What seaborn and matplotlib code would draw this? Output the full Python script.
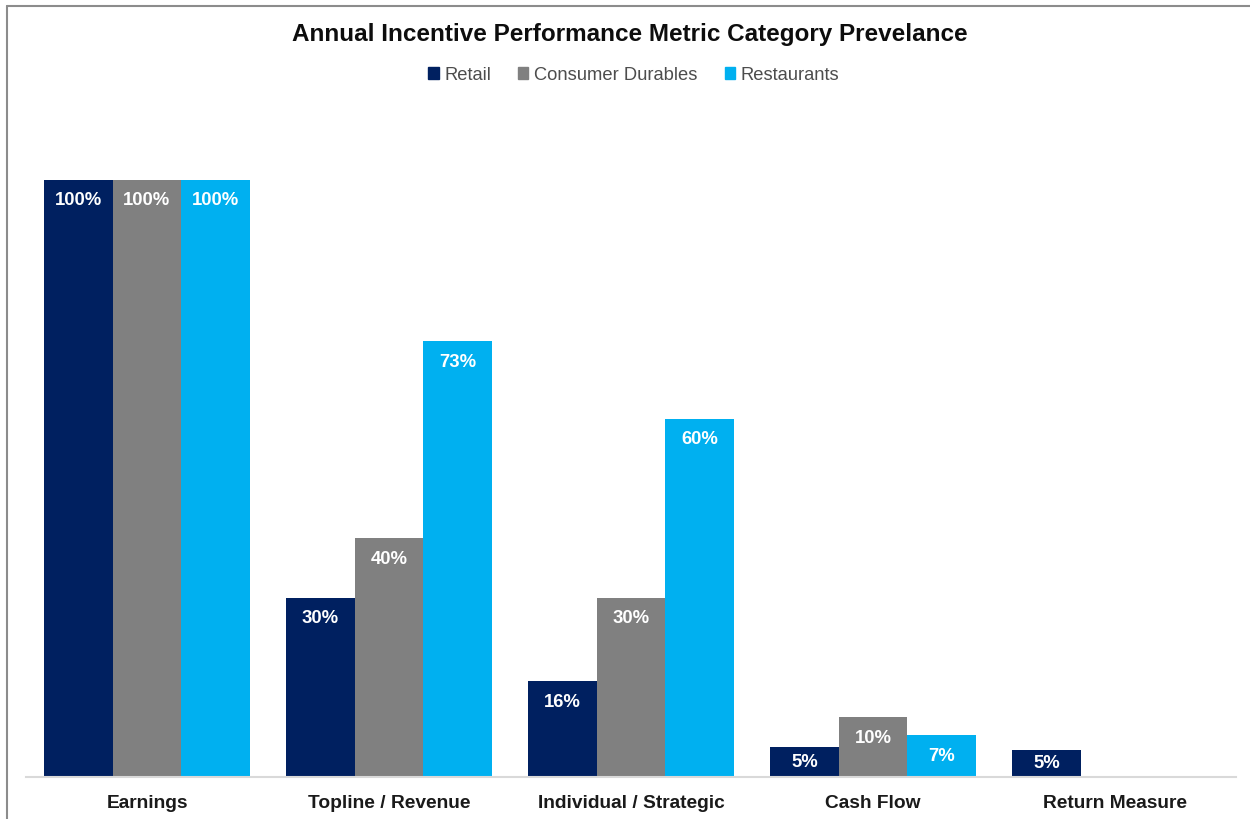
import numpy as np
import pandas as pd
import matplotlib
matplotlib.use("Agg")
import matplotlib.pyplot as plt
from matplotlib.lines import Line2D
import seaborn as sns

categories = ["Earnings", "Topline / Revenue", "Individual / Strategic", "Cash Flow", "Return Measure"]
series = ["Retail", "Consumer Durables", "Restaurants"]
retail = [100, 30, 16, 5, 4.6]
consumer_durables = [100, 40, 30, 10, np.nan]
restaurants = [100, 73, 60, 7, np.nan]
retail_labels = ["100%", "30%", "16%", "5%", "5%"]
consumer_labels = ["100%", "40%", "30%", "10%", None]
restaurant_labels = ["100%", "73%", "60%", "7%", None]
colors = ["#002060", "#808080", "#00B0F0"]

sns.set_theme(style="white")
plt.rcParams['font.family'] = ['Liberation Sans', 'DejaVu Sans']

rows = []
for s, vals in zip(series, [retail, consumer_durables, restaurants]):
    for c, v in zip(categories, vals):
        if not np.isnan(v):
            rows.append({"Category": c, "Series": s, "Value": v})
df = pd.DataFrame(rows)

fig = plt.figure(figsize=(12.5, 8.19), dpi=100)
ax = fig.add_axes([26/1250, 1 - 777/819, 1210/1250, 677/819])

sns.barplot(data=df, x="Category", y="Value", hue="Series", order=categories,
            hue_order=series, palette=colors, saturation=1, width=0.85,
            ax=ax, legend=False, edgecolor="none", linewidth=0)

ax.set_xlim(-0.5, 4.5)
ax.set_ylim(0, 113.4)
ax.set_xlabel("")
ax.set_ylabel("")
ax.set_yticks([])
for sp in ["top", "left", "right"]:
    ax.spines[sp].set_visible(False)
ax.spines["bottom"].set_color("#D9D9D9")
ax.spines["bottom"].set_linewidth(1.5)
ax.tick_params(axis="x", length=0, pad=13)
for t in ax.get_xticklabels():
    t.set_fontweight("bold")
    t.set_fontsize(13.8)
    t.set_color("#1a1a1a")

offset = 3.5
for cont, labs in zip(ax.containers, [retail_labels, consumer_labels, restaurant_labels]):
    labs = [l for l in labs if l is not None]
    for bar, lab in zip(cont, labs):
        h = bar.get_height()
        y = max(h - offset, h / 2)
        ax.text(bar.get_x() + bar.get_width() / 2, y, lab, ha="center", va="center",
                color="white", fontweight="bold", fontsize=13.3)

fig.text(0.504, 1 - 34/819, "Annual Incentive Performance Metric Category Prevelance",
         ha="center", va="center", fontsize=17.5, fontweight="bold", color="#0d0d0d")

handles = [plt.Rectangle((0, 0), 1, 1, color=c) for c in colors]
fig.legend(handles, series, loc="center", bbox_to_anchor=(0.507, 1 - 75/819), ncol=3,
           frameon=False, fontsize=13.2, handlelength=0.55, handleheight=0.55,
           handletextpad=0.3, columnspacing=1.5, labelcolor="#4d4d4d")

fig.add_artist(Line2D([7/1250, 1], [1 - 6/819, 1 - 6/819], transform=fig.transFigure,
                      color="#8c8c8c", linewidth=1.5))
fig.add_artist(Line2D([7/1250, 7/1250], [0, 1 - 6/819], transform=fig.transFigure,
                      color="#8c8c8c", linewidth=1.5))

fig.savefig("out.png", dpi=100, facecolor="white")
